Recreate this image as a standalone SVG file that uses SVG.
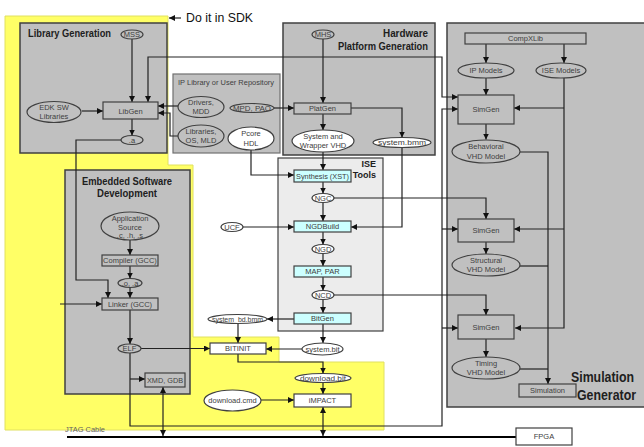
<svg xmlns="http://www.w3.org/2000/svg" width="644" height="447" viewBox="0 0 644 447">
<defs>
<marker id="ah" viewBox="0 0 10 10" refX="10" refY="5" markerWidth="6" markerHeight="6" markerUnits="userSpaceOnUse" orient="auto-start-reverse"><path d="M0,0 L10,5 L0,10 z" fill="#111"/></marker>
<style>
.grp{fill:#c0c0c0;stroke:#404040;stroke-width:1.5}
.box{fill:#c0c0c0;stroke:#404040;stroke-width:1.2}
.wbox{fill:#fff;stroke:#404040;stroke-width:1.2}
.cbox{fill:#ccffff;stroke:#404040;stroke-width:1.2}
.ge{fill:#c0c0c0;stroke:#404040;stroke-width:1.2}
.we{fill:#fff;stroke:#404040;stroke-width:1.2}
.t{font-family:"Liberation Sans",Arial,sans-serif;font-size:7.5px;fill:#404040;text-anchor:middle}
.ti{font-family:"Liberation Sans",Arial,sans-serif;font-weight:bold;fill:#202020}
.c{fill:none;stroke:#222;stroke-width:1.2}
.a{marker-end:url(#ah)}
.b{marker-start:url(#ah);marker-end:url(#ah)}
</style>
</defs>
<g id="sdk-area">
<polygon points="5,16 168,16 168,165 193,165 193,337 279,337 279,362 384,362 384,430 5,430" fill="#ffff66" stroke="#e0e060" stroke-width="1"/>
<path class="c a" d="M181,18 H169"/>
<text x="186" y="22" font-family="'Liberation Sans',Arial,sans-serif" font-size="12" fill="#111" textLength="67" lengthAdjust="spacingAndGlyphs">Do it in SDK</text>
</g>
<g id="library-generation">
<rect class="grp" x="20" y="23" width="147" height="130"/>
<text class="ti" x="28" y="37" font-size="10.5" textLength="83" lengthAdjust="spacingAndGlyphs">Library Generation</text>
</g>
<g id="ip-library">
<rect x="173" y="74" width="107" height="79" fill="#c0c0c0" stroke="#707070" stroke-width="1.2"/>
<text class="t" x="178" y="85" style="text-anchor:start" textLength="96" lengthAdjust="spacingAndGlyphs">IP Library or User Repository</text>
</g>
<g id="hardware-platform-generation">
<rect class="grp" x="283" y="23" width="152" height="132"/>
<text class="ti" x="428" y="37" font-size="10.5" text-anchor="end" textLength="45" lengthAdjust="spacingAndGlyphs">Hardware</text>
<text class="ti" x="428" y="50" font-size="10.5" text-anchor="end" textLength="90" lengthAdjust="spacingAndGlyphs">Platform Generation</text>
</g>
<g id="simulation-generator">
<rect class="grp" x="447" y="23" width="200" height="384"/>
<text class="ti" x="634" y="382" font-size="14" text-anchor="end" textLength="63" lengthAdjust="spacingAndGlyphs">Simulation</text>
<text class="ti" x="636" y="400" font-size="14" text-anchor="end" textLength="59" lengthAdjust="spacingAndGlyphs">Generator</text>
</g>
<g id="ise-tools">
<rect x="278" y="158" width="105" height="173" fill="#ececec" stroke="#404040" stroke-width="1.2"/>
<text class="ti" x="376" y="167" font-size="9" text-anchor="end">ISE</text>
<text class="ti" x="376" y="178" font-size="9" text-anchor="end">Tools</text>
</g>
<g id="embedded-software-development">
<rect class="grp" x="65" y="170" width="125" height="224"/>
<text class="ti" x="127" y="185" font-size="10.5" text-anchor="middle" textLength="90" lengthAdjust="spacingAndGlyphs">Embedded Software</text>
<text class="ti" x="127" y="197" font-size="10.5" text-anchor="middle" textLength="60" lengthAdjust="spacingAndGlyphs">Development</text>
</g>
<g id="connectors">
<path class="c a" d="M132,39 V102"/>
<path class="c a" d="M82,111 H103"/>
<path class="c a" d="M132,119 V135.5"/>
<path class="c a" d="M121,140 H76 V280 H108 V298"/>
<path class="c a" d="M178,106 H158"/>
<path class="c a" d="M178,136 H170 V113 H158"/>
<path class="c b" d="M148,102 V57 H442 V97 H458"/>
<path class="c a" d="M323,39 V103"/>
<path class="c a" d="M274,108 H294"/>
<path class="c a" d="M323,114 V130"/>
<path class="c a" d="M351,108 H402 V137.5"/>
<path class="c a" d="M251,150 V175 H294"/>
<path class="c a" d="M323,152 V170"/>
<path class="c a" d="M402,147 V227 H351"/>
<path class="c a" d="M323,182 V193.5"/>
<path class="c a" d="M334,198 H486 V219"/>
<path class="c a" d="M323,202.5 V221"/>
<path class="c a" d="M243,227 H294"/>
<path class="c a" d="M323,232 V244.5"/>
<path class="c a" d="M323,253.5 V266"/>
<path class="c a" d="M323,277 V290.5"/>
<path class="c a" d="M334,295 H486 V315"/>
<path class="c a" d="M323,299.5 V313"/>
<path class="c a" d="M294,319 H267"/>
<path class="c a" d="M323,324 V343"/>
<path class="c a" d="M238,323.5 V343"/>
<path class="c a" d="M302,349 H266"/>
<path class="c a" d="M141,348.5 H210"/>
<path class="c a" d="M238,354 V362 H323 V373.5"/>
<path class="c a" d="M323,382.5 V394"/>
<path class="c a" d="M261,400 H294"/>
<path class="c b" d="M323,407 V436"/>
<path class="c a" d="M130,240 V255"/>
<path class="c a" d="M130,266 V278.5"/>
<path class="c a" d="M130,287.5 V298"/>
<path class="c a" d="M60,304 H102"/>
<path class="c a" d="M130,310 V344"/>
<path class="c a" d="M130,379 H145"/>
<path class="c a" d="M130,353 V426 H442 V109 H458"/>
<path class="c a" d="M442,229 H458"/>
<path class="c a" d="M442,328 H458"/>
<path class="c b" d="M163,387 V436"/>
<path class="c a" d="M486,44 V63"/>
<path class="c a" d="M564,44 V63"/>
<path class="c a" d="M486,78 V95"/>
<path class="c a" d="M564,78 V328 H515"/>
<path class="c a" d="M564,108 H514"/>
<path class="c a" d="M564,229 H514"/>
<path class="c a" d="M486,124 V139.5"/>
<path class="c a" d="M486,242 V254"/>
<path class="c a" d="M486,339 V357"/>
<path class="c a" d="M520,152 H548 V384"/>
<path class="c" d="M520,266 H548"/>
<path class="c" d="M520,369 H548"/>
<path d="M67,437 H516" stroke="#000" stroke-width="2" fill="none"/>
</g>
<g id="mss"><ellipse class="ge" cx="132" cy="34.5" rx="11" ry="4.5"/><text class="t" x="132" y="37.3">MSS</text></g>
<g id="libgen"><rect class="box" x="103" y="102" width="55" height="17"/><text class="t" x="130.5" y="113.5">LibGen</text></g>
<g id="edk-sw-libraries"><ellipse class="ge" cx="54" cy="112" rx="27" ry="10.5"/><text class="t" x="54" y="109.5">EDK SW</text><text class="t" x="54" y="119">Libraries</text></g>
<g id="a-lib"><ellipse class="ge" cx="132" cy="140" rx="11" ry="4.5"/><text class="t" x="132" y="142.8">.a</text></g>
<g id="drivers-mdd"><ellipse class="ge" cx="201" cy="107" rx="23" ry="10.5"/><text class="t" x="201" y="104.5">Drivers,</text><text class="t" x="201" y="114">MDD</text></g>
<g id="libraries-os-mld"><ellipse class="ge" cx="201" cy="136" rx="23" ry="11"/><text class="t" x="201" y="133.5">Libraries,</text><text class="t" x="201" y="143">OS, MLD</text></g>
<g id="mpd-pao"><ellipse class="ge" cx="252" cy="108" rx="22" ry="4.5"/><text class="t" x="252" y="110.8" textLength="38" lengthAdjust="spacingAndGlyphs">MPD, PAO</text></g>
<g id="pcore-hdl"><ellipse class="we" cx="251" cy="138.5" rx="23" ry="11.5"/><text class="t" x="251" y="136">Pcore</text><text class="t" x="251" y="145.5">HDL</text></g>
<g id="mhs"><ellipse class="ge" cx="323" cy="34.5" rx="11" ry="4.5"/><text class="t" x="323" y="37.3">MHS</text></g>
<g id="platgen"><rect class="box" x="294" y="103" width="57" height="11"/><text class="t" x="322.5" y="111.3">PlatGen</text></g>
<g id="system-wrapper-vhd"><ellipse class="we" cx="323" cy="141" rx="31" ry="11"/><text class="t" x="323" y="138.5">System and</text><text class="t" x="323" y="148">Wrapper VHD</text></g>
<g id="system-bmm"><ellipse class="we" cx="402" cy="142.5" rx="29" ry="5"/><text class="t" x="402" y="145.2" textLength="48" lengthAdjust="spacingAndGlyphs">system.bmm</text></g>
<g id="synthesis"><rect class="cbox" x="294" y="170" width="57" height="12"/><text class="t" x="322.5" y="178.8" textLength="53" lengthAdjust="spacingAndGlyphs">Synthesis (XST)</text></g>
<g id="ngc"><ellipse class="we" cx="323" cy="198" rx="11" ry="4.5"/><text class="t" x="323" y="200.7">NGC</text></g>
<g id="ucf"><ellipse class="we" cx="232" cy="227" rx="11" ry="4.5"/><text class="t" x="232" y="229.7">UCF</text></g>
<g id="ngdbuild"><rect class="cbox" x="294" y="221" width="57" height="11"/><text class="t" x="322.5" y="229.3">NGDBuild</text></g>
<g id="ngd"><ellipse class="we" cx="323" cy="249" rx="11" ry="4.5"/><text class="t" x="323" y="251.7">NGD</text></g>
<g id="map-par"><rect class="cbox" x="294" y="266" width="57" height="11"/><text class="t" x="322.5" y="274.3">MAP, PAR</text></g>
<g id="ncd"><ellipse class="we" cx="323" cy="295" rx="11" ry="4.5"/><text class="t" x="323" y="297.7">NCD</text></g>
<g id="bitgen"><rect class="cbox" x="294" y="313" width="57" height="11"/><text class="t" x="322.5" y="321.3">BitGen</text></g>
<g id="system-bd-bmm"><ellipse class="we" cx="237.5" cy="319" rx="29.5" ry="4.5"/><text class="t" x="237.5" y="321.7" textLength="51" lengthAdjust="spacingAndGlyphs">system_bd.bmm</text></g>
<g id="system-bit"><ellipse class="we" cx="322.5" cy="349" rx="20.5" ry="6"/><text class="t" x="322.5" y="351.7" textLength="34" lengthAdjust="spacingAndGlyphs">system.bit</text></g>
<g id="bitinit"><rect class="wbox" x="210" y="343" width="56" height="11"/><text class="t" x="238" y="351.3">BITINIT</text></g>
<g id="download-bit"><ellipse class="we" cx="323" cy="378" rx="28" ry="4.5"/><text class="t" x="323" y="380.7" textLength="46" lengthAdjust="spacingAndGlyphs">download.bit</text></g>
<g id="download-cmd"><ellipse class="we" cx="232.5" cy="400.5" rx="28.5" ry="10.5"/><text class="t" x="232.5" y="403.2">download.cmd</text></g>
<g id="impact"><rect class="wbox" x="294" y="394" width="57" height="13"/><text class="t" x="322.5" y="403.3">iMPACT</text></g>
<g id="application-source"><ellipse class="ge" cx="130" cy="226" rx="29" ry="14"/><text class="t" x="130" y="221">Application</text><text class="t" x="130" y="229.5">Source</text><text class="t" x="130" y="238">.c, .h, .s</text></g>
<g id="compiler"><rect class="box" x="102" y="255" width="56" height="11"/><text class="t" x="130" y="263.3">Compiler (GCC)</text></g>
<g id="o-a"><ellipse class="ge" cx="130" cy="283" rx="12" ry="4.5"/><text class="t" x="130" y="285.7">.o, .a</text></g>
<g id="linker"><rect class="box" x="102" y="298" width="56" height="12"/><text class="t" x="130" y="306.8">Linker (GCC)</text></g>
<g id="elf"><ellipse class="ge" cx="129.5" cy="348.5" rx="11.5" ry="4.5"/><text class="t" x="129.5" y="351.2">ELF</text></g>
<g id="xmd-gdb"><rect class="box" x="145" y="373" width="40" height="14"/><text class="t" x="165" y="382.8" textLength="36" lengthAdjust="spacingAndGlyphs">XMD, GDB</text></g>
<g id="jtag-cable"><text class="t" x="65" y="432" style="text-anchor:start;fill:#606060" textLength="40" lengthAdjust="spacingAndGlyphs">JTAG Cable</text></g>
<g id="fpga"><rect class="wbox" x="516" y="428" width="56" height="17"/><text class="t" x="544" y="439.3">FPGA</text></g>
<g id="compxlib"><rect class="box" x="465" y="33" width="121" height="11"/><text class="t" x="525.5" y="41.3">CompXLib</text></g>
<g id="ip-models"><ellipse class="ge" cx="486" cy="70.5" rx="28" ry="7.5"/><text class="t" x="486" y="73.2">IP Models</text></g>
<g id="ise-models"><ellipse class="ge" cx="561" cy="70.5" rx="25" ry="7.5"/><text class="t" x="561" y="73.2">ISE Models</text></g>
<g id="simgen-behavioral"><rect class="box" x="458" y="95" width="56" height="29"/><text class="t" x="486" y="112.3">SimGen</text></g>
<g id="behavioral-vhd-model"><ellipse class="ge" cx="486" cy="151.5" rx="34" ry="11.5"/><text class="t" x="486" y="149">Behavioral</text><text class="t" x="486" y="158.5">VHD Model</text></g>
<g id="simgen-structural"><rect class="box" x="458" y="219" width="56" height="23"/><text class="t" x="486" y="233">SimGen</text></g>
<g id="structural-vhd-model"><ellipse class="ge" cx="486" cy="265" rx="34" ry="11"/><text class="t" x="486" y="262.5">Structural</text><text class="t" x="486" y="272">VHD Model</text></g>
<g id="simgen-timing"><rect class="box" x="458" y="315" width="56" height="24"/><text class="t" x="486" y="330">SimGen</text></g>
<g id="timing-vhd-model"><ellipse class="ge" cx="486" cy="368" rx="34" ry="11"/><text class="t" x="486" y="365.5">Timing</text><text class="t" x="486" y="375">VHD Model</text></g>
<g id="simulation"><rect class="box" x="519" y="384" width="57" height="13"/><text class="t" x="547.5" y="393.3">Simulation</text></g>
</svg>
